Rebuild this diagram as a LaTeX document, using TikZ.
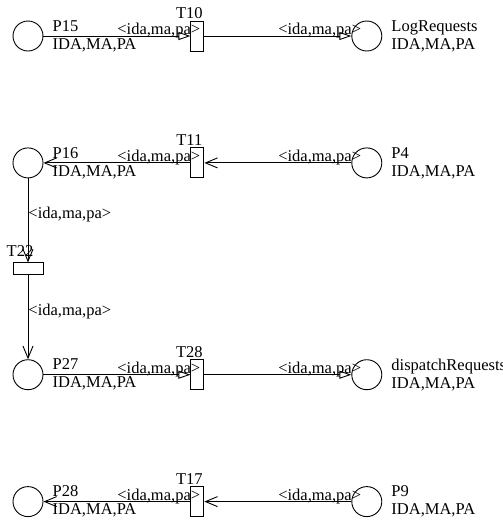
\documentclass[tikz,border=0pt]{standalone}
\usepackage{fontspec}
\setmainfont{Liberation Serif}
\usetikzlibrary{arrows.meta,positioning}

\begin{document}
\begin{tikzpicture}[
  x=1pt,y=1pt,
  node distance=96pt and 147pt,
  every node/.style={font=\fontsize{16.5}{18}\selectfont},
  place/.style={draw,circle,line width=0.9pt,minimum size=30pt,inner sep=0pt},
  trans/.style={draw,rectangle,line width=0.9pt,minimum width=13pt,minimum height=30pt,inner sep=0pt},
  transh/.style={trans,minimum width=30pt,minimum height=12pt},
  plabel/.style={align=left,inner sep=0pt,xshift=9pt},
  tlabel/.style={anchor=base,inner sep=0pt,xshift=-8pt,yshift=2pt},
  arclab/.style={pos=0.5,anchor=base west,inner sep=0pt,yshift=1.5pt},
  arcT/.style={-{Triangle[open,length=12pt,width=8pt]},line width=0.9pt},
  arcV/.style={-{Straight Barb[length=12pt,width=10pt]},line width=0.9pt}
]
\useasboundingbox (0,0) rectangle (503,-520);
\node[place,label={[plabel]right:{P15\\IDA,MA,PA}}] (P15) at (28,-36) {};
\node[trans,right=of P15,label={[tlabel]above:T10}] (T10) {};
\node[place,right=of T10,label={[plabel]right:{LogRequests\\IDA,MA,PA}}] (LogRequests) {};

\node[place,below=of P15,label={[plabel]right:{P16\\IDA,MA,PA}}] (P16) {};
\node[trans,right=of P16,label={[tlabel]above:T11}] (T11) {};
\node[place,right=of T11,label={[plabel]right:{P4\\IDA,MA,PA}}] (P4) {};

\node[transh,below=84pt of P16,label={[tlabel,yshift=4pt]above:T22}] (T22) {};
\node[place,below=84pt of T22,label={[plabel]right:{P27\\IDA,MA,PA}}] (P27) {};
\node[trans,right=of P27,label={[tlabel]above:T28}] (T28) {};
\node[place,right=of T28,label={[plabel]right:{dispatchRequests\\IDA,MA,PA}}] (dispatchRequests) {};

\node[place,below=of P27,label={[plabel]right:{P28\\IDA,MA,PA}}] (P28) {};
\node[trans,right=of P28,label={[tlabel]above:T17}] (T17) {};
\node[place,right=of T17,label={[plabel]right:{P9\\IDA,MA,PA}}] (P9) {};

\draw[arcT] (P15) -- node[arclab]{<ida,ma,pa>} (T10);
\draw[arcT] (T10) -- node[arclab]{<ida,ma,pa>} (LogRequests);
\draw[arcV] (P4) -- node[arclab]{<ida,ma,pa>} (T11);
\draw[arcV] (T11) -- node[arclab]{<ida,ma,pa>} (P16);
\draw[arcV] (P16) -- node[arclab]{<ida,ma,pa>} (T22);
\draw[arcV] (T22) -- node[arclab]{<ida,ma,pa>} (P27);
\draw[arcT] (P27) -- node[arclab]{<ida,ma,pa>} (T28);
\draw[arcT] (T28) -- node[arclab]{<ida,ma,pa>} (dispatchRequests);
\draw[arcV] (P9) -- node[arclab]{<ida,ma,pa>} (T17);
\draw[arcV] (T17) -- node[arclab]{<ida,ma,pa>} (P28);
\end{tikzpicture}
\end{document}
